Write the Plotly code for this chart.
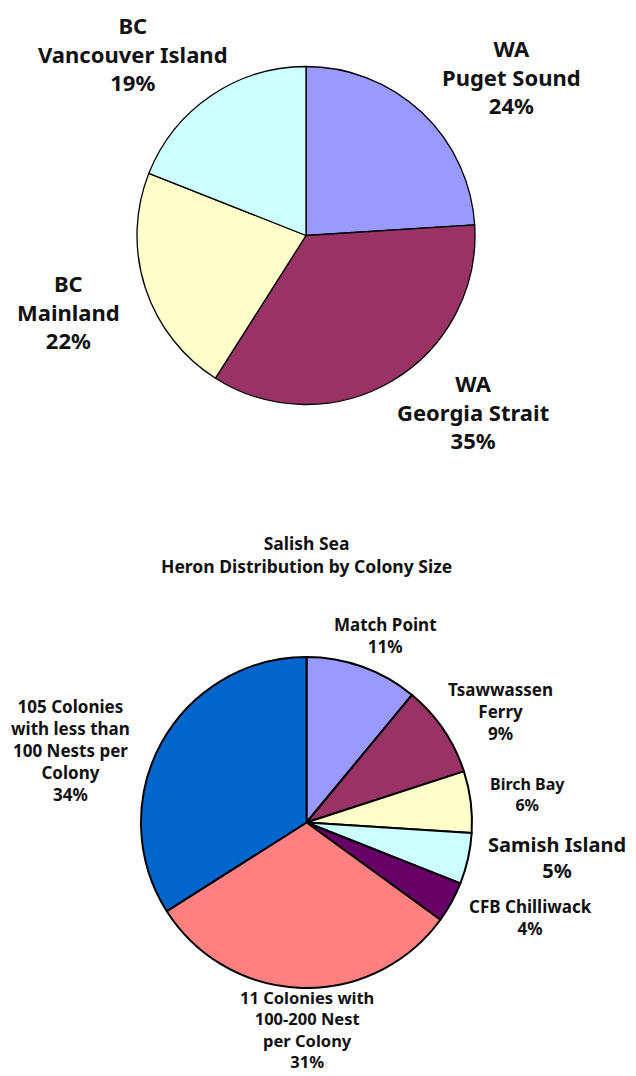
import plotly.graph_objects as go

# ---- Data ----
region_labels = ["WA<br>Puget Sound", "WA<br>Georgia Strait", "BC<br>Mainland", "BC<br>Vancouver Island"]
region_values = [24, 35, 22, 19]
region_colors = ["#9999FF", "#993366", "#FFFFCC", "#CCFFFF"]

colony_labels = ["Match Point", "Tsawwassen<br>Ferry", "Birch Bay", "Samish Island",
                 "CFB Chilliwack", "11 Colonies with<br>100-200 Nest<br>per Colony",
                 "105 Colonies<br>with less than<br>100 Nests per<br>Colony"]
colony_values = [11, 9, 6, 5, 4, 31, 34]
colony_colors = ["#9999FF", "#993366", "#FFFFCC", "#CCFFFF", "#660066", "#FF8080", "#0066CC"]

colony_title = "Salish Sea<br>Heron Distribution by Colony Size"

# page body has an 8px margin; the figure is sized so it ends at the window edge
OFF = 8
W, H = 636 - OFF, 1076 - OFF


def px_x(x):
    return (x - OFF) / W


def px_y(y):
    return 1 - (y - OFF) / H


fig = go.Figure()
fig.add_trace(go.Pie(
    labels=region_labels, values=region_values, sort=False, direction="clockwise",
    rotation=0, marker=dict(colors=region_colors, line=dict(color="#000000", width=1.3)),
    textinfo="none", hoverinfo="label+percent", showlegend=False,
    domain=dict(x=[px_x(137), px_x(475)], y=[px_y(405), px_y(66)]),
))
fig.add_trace(go.Pie(
    labels=colony_labels, values=colony_values, sort=False, direction="clockwise",
    rotation=0, marker=dict(colors=colony_colors, line=dict(color="#000000", width=2)),
    textinfo="none", hoverinfo="label+percent", showlegend=False,
    domain=dict(x=[px_x(141), px_x(472)], y=[px_y(988), px_y(657)]),
))

# label placement: (center x, block center y, font size) in pixels
region_pos = [(511, 76, 22), (473, 411, 22), (68, 311, 22), (133, 53, 22)]
colony_pos = [(385, 635, 17), (500, 711, 17), (527, 794, 16),
              (557, 858, 20), (530, 917, 17), (307, 1029, 16.5),
              (70, 750, 17)]

annotations = []


def add_block(text, x, y, fs):
    annotations.append(dict(
        text=text, x=px_x(x), y=px_y(y), xref="paper", yref="paper",
        xanchor="center", yanchor="middle", showarrow=False, align="center",
        borderpad=0,
        font=dict(family="Noto Sans", size=fs, color="#111111", weight="bold"),
    ))


for lab, val, (x, y, fs) in zip(region_labels, region_values, region_pos):
    add_block(f"{lab}<br>{val}%", x, y, fs)
for lab, val, (x, y, fs) in zip(colony_labels, colony_values, colony_pos):
    add_block(f"{lab}<br>{val}%", x, y, fs)
add_block(colony_title, 306, 554, 17.5)

fig.update_layout(
    width=W, height=H, margin=dict(l=0, r=0, t=0, b=0),
    paper_bgcolor="#FFFFFF", plot_bgcolor="#FFFFFF",
    annotations=annotations,
)

fig.write_html("out.html")
